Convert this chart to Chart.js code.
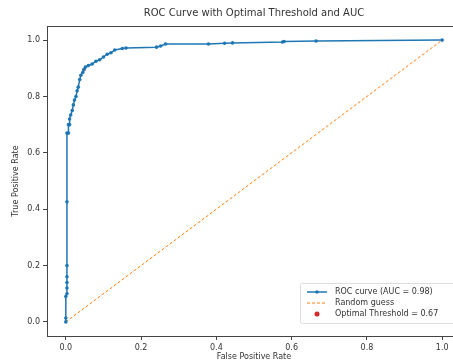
<!DOCTYPE html>
<html>
<head>
<meta charset="utf-8">
<script src="https://cdn.jsdelivr.net/npm/chart.js@4.4.1/dist/chart.umd.min.js"></script>
<style>
  html, body { margin: 0; padding: 0; background: #fff; }
  #wrap { width: 453px; height: 362px; overflow: hidden; position: relative; }
  #box { width: 480px; height: 362px; position: absolute; left: 0; top: 0; }
</style>
</head>
<body>
<div id="wrap"><div id="box"><canvas id="roc"></canvas></div></div>
<script>
// ROC curve points
const fpr = [0, 0, 0, 0.003, 0.003, 0.003, 0.003, 0.003, 0.003, 0.003, 0.007, 0.007, 0.01, 0.01,
  0.013, 0.017, 0.02, 0.023, 0.027, 0.03, 0.033, 0.037, 0.04, 0.045, 0.048, 0.052, 0.06, 0.07,
  0.08, 0.09, 0.1, 0.11, 0.12, 0.13, 0.15, 0.16, 0.241, 0.252, 0.265, 0.379, 0.422, 0.443,
  0.576, 0.58, 0.665, 1.0];
const tpr = [0, 0.014, 0.09, 0.1, 0.12, 0.14, 0.16, 0.2, 0.426, 0.67, 0.67, 0.70, 0.70, 0.72,
  0.734, 0.75, 0.77, 0.787, 0.80, 0.82, 0.833, 0.86, 0.875, 0.885, 0.895, 0.904, 0.91, 0.915,
  0.925, 0.93, 0.94, 0.95, 0.955, 0.965, 0.97, 0.972, 0.975, 0.979, 0.986, 0.986, 0.989, 0.99,
  0.993, 0.995, 0.997, 1.0];
const guessX = [0, 1];
const guessY = [0, 1];
const optimalX = [0.048];
const optimalY = [0.895];
const tickVals = [0, 0.2, 0.4, 0.6, 0.8, 1.0];
const legendLabels = ['ROC curve (AUC = 0.98)', 'Random guess', 'Optimal Threshold = 0.67'];
const titleText = 'ROC Curve with Optimal Threshold and AUC';
const xTitle = 'False Positive Rate';
const yTitle = 'True Positive Rate';

const BLUE = '#1f77b4', ORANGE = '#ff7f0e', RED = '#d62728';
const FONT = "'DejaVu Sans', sans-serif";

const toPts = (xs, ys) => xs.map((x, i) => ({ x, y: ys[i] }));

const decor = {
  id: 'decor',
  afterDraw(chart) {
    const { ctx, chartArea: a } = chart;
    ctx.save();
    ctx.fillStyle = '#333';
    ctx.textAlign = 'center';
    ctx.textBaseline = 'middle';
    ctx.font = '10px ' + FONT;
    ctx.fillText(titleText, (a.left + a.right) / 2, 13);
    ctx.font = '8px ' + FONT;
    ctx.fillText(xTitle, (a.left + a.right) / 2, 357);
    ctx.translate(16, (a.top + a.bottom) / 2);
    ctx.rotate(-Math.PI / 2);
    ctx.fillText(yTitle, 0, 0);
    ctx.restore();

    // legend box, lower right (runs off the right edge like the reference)
    const lx = 300, ly = 283, lw = 175, lh = 40;
    ctx.save();
    ctx.fillStyle = 'rgba(255,255,255,0.8)';
    ctx.strokeStyle = '#ddd';
    ctx.lineWidth = 1;
    ctx.beginPath();
    ctx.roundRect(lx + 0.5, ly + 0.5, lw, lh, 2);
    ctx.fill();
    ctx.stroke();
    ctx.font = '8px ' + FONT;
    ctx.textAlign = 'left';
    ctx.textBaseline = 'middle';
    const rows = [ly + 9, ly + 20, ly + 31];
    ctx.strokeStyle = BLUE; ctx.lineWidth = 1.5;
    ctx.beginPath(); ctx.moveTo(lx + 7, rows[0]); ctx.lineTo(lx + 27, rows[0]); ctx.stroke();
    ctx.fillStyle = BLUE;
    ctx.beginPath(); ctx.arc(lx + 17, rows[0], 1.8, 0, Math.PI * 2); ctx.fill();
    ctx.strokeStyle = ORANGE; ctx.lineWidth = 1; ctx.setLineDash([3, 2]);
    ctx.beginPath(); ctx.moveTo(lx + 7, rows[1]); ctx.lineTo(lx + 27, rows[1]); ctx.stroke();
    ctx.setLineDash([]);
    ctx.fillStyle = RED;
    ctx.beginPath(); ctx.arc(lx + 17, rows[2], 2.5, 0, Math.PI * 2); ctx.fill();
    ctx.fillStyle = '#333';
    legendLabels.forEach((t, i) => ctx.fillText(t, lx + 35, rows[i]));
    ctx.restore();
  }
};

const axis = (w) => ({
  type: 'linear',
  min: -0.05,
  max: 1.05,
  afterBuildTicks: s => { s.ticks = tickVals.map(v => ({ value: v })); },
  afterFit: s => { if (w.width) s.width = w.width; if (w.height) s.height = w.height; },
  grid: { drawOnChartArea: false, drawTicks: true, tickLength: 4, color: '#444' },
  border: { display: true, color: '#444', width: 1 },
  ticks: { color: '#333', font: { family: FONT, size: 8 }, padding: 3, callback: v => v.toFixed(1), maxRotation: 0 }
});

new Chart(document.getElementById('roc'), {
  type: 'scatter',
  data: {
    datasets: [
      {
        label: legendLabels[0],
        data: toPts(fpr, tpr),
        showLine: true,
        borderColor: BLUE,
        backgroundColor: BLUE,
        borderWidth: 1.5,
        pointRadius: 1.8,
        pointHoverRadius: 1.8,
        pointBorderWidth: 0,
        order: 1
      },
      {
        label: legendLabels[1],
        data: toPts(guessX, guessY),
        showLine: true,
        borderColor: ORANGE,
        borderWidth: 1,
        borderDash: [3, 2],
        pointRadius: 0,
        order: 2
      },
      {
        // drawn underneath the curve, hidden by its marker like in the reference
        label: legendLabels[2],
        data: toPts(optimalX, optimalY),
        backgroundColor: RED,
        pointRadius: 1.6,
        pointBorderWidth: 0,
        order: 3
      }
    ]
  },
  options: {
    responsive: true,
    maintainAspectRatio: false,
    animation: false,
    layout: { padding: { left: 0, top: 26, right: 19, bottom: 0 } },
    plugins: { legend: { display: false }, tooltip: { enabled: false } },
    scales: {
      x: { ...axis({ height: 26 }), position: 'bottom' },
      y: { ...axis({ width: 47 }), position: 'left' },
      x2: { type: 'linear', position: 'top', display: true, afterFit: s => { s.height = 0; },
        grid: { display: false }, ticks: { display: false }, border: { display: true, color: '#444' } },
      y2: { type: 'linear', position: 'right', display: true, afterFit: s => { s.width = 0; },
        grid: { display: false }, ticks: { display: false }, border: { display: true, color: '#444' } }
    }
  },
  plugins: [decor]
});
</script>
</body>
</html>
